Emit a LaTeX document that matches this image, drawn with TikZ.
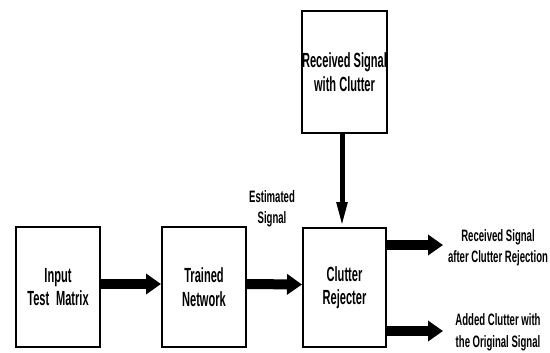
\documentclass[tikz,border=0pt]{standalone}
\usepackage{fontspec}
\setmainfont{Liberation Sans}[FakeStretch=0.58]
\newfontfamily\boxfont{Liberation Sans}[FakeStretch=0.54]
\usetikzlibrary{arrows.meta}
\tikzset{
  x=1bp, y=-1bp,
  blockbox/.style={draw=black, line width=2bp, fill=white, inner sep=0pt, align=center,
    font=\boxfont\bfseries\fontsize{20.5bp}{23.5bp}\selectfont},
  lbl/.style={inner sep=0pt, align=center, font=\bfseries\fontsize{16.5bp}{21.5bp}\selectfont},
  fatarrow/.style={line width=10bp, -{Triangle[length=15bp,width=20bp]}},
  thinarrow/.style={line width=5bp, -{Triangle[length=25bp,width=10bp]}}
}
\begin{document}
\begin{tikzpicture}
\useasboundingbox (0,0) rectangle (550,352);
\node[blockbox, minimum width=84bp, minimum height=120bp] (inp) at (58,287) {Input\\Test\,\,Matrix};
\node[blockbox, minimum width=84bp, minimum height=120bp] (net) at (204,287) {Trained\\Network};
\node[blockbox, minimum width=83bp, minimum height=119bp] (rej) at (344.5,287.5) {Clutter\\Rejecter};
\node[blockbox, minimum width=85bp, minimum height=122bp] (rx) at (344.5,72) {Received Signal\\with Clutter};
\node[lbl] (est) at (272,209) {Estimated\\Signal};
\node[lbl] (out1) at (498,247.5) {Received Signal\\after Clutter Rejection};
\node[lbl] (out2) at (498,332.5) {Added Clutter with\\the Original Signal};
\coordinate (o1) at (443,245);
\coordinate (o2) at (443,331);
\draw[fatarrow] ([yshift=3bp]inp.east) -- ([yshift=3bp]net.west);
\draw[fatarrow] ([yshift=3bp]net.east) -- ([yshift=3bp]rej.west);
\draw[thinarrow] ([xshift=-2.5bp]rx.south) -- ([xshift=-2.5bp]rej.north);
\draw[fatarrow] (rej.east |- o1) -- (o1);
\draw[fatarrow] (rej.east |- o2) -- (o2);
\end{tikzpicture}
\end{document}
